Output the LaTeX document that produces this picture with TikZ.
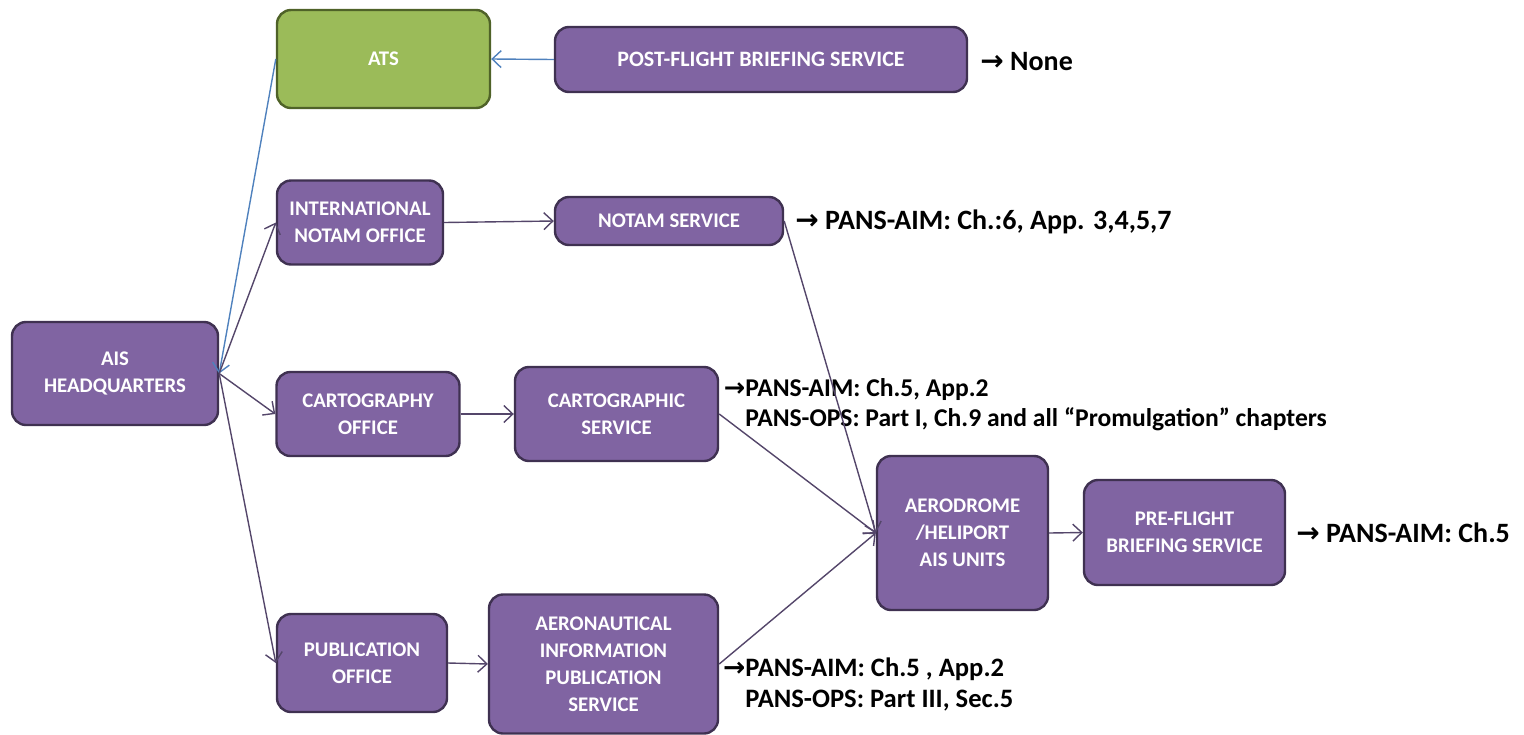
\documentclass[tikz,border=0pt]{standalone}
\usepackage{fontspec}
\setmainfont{Carlito}
\newfontfamily\arrfont{DejaVu Sans}
\usetikzlibrary{arrows.meta}
\definecolor{boxfill}{HTML}{8064A2}
\definecolor{boxline}{HTML}{3F3151}
\definecolor{atsfill}{HTML}{9BBB59}
\definecolor{atsline}{HTML}{4F6228}
\definecolor{conn}{HTML}{54466A}
\definecolor{blueconn}{HTML}{4F81BD}
\newcommand{\rarr}{{\arrfont\bfseries\symbol{"2192}}}
\begin{document}
\begin{tikzpicture}[x=0.5pt,y=-0.5pt,
 box/.style={draw=boxline, fill=boxfill, line width=1.2pt, rounded corners=7pt, text=white,
   font=\fontsize{10.4}{13.5}\selectfont\bfseries, align=center, inner sep=0pt},
 greenbox/.style={box, draw=atsline, fill=atsfill},
 link/.style={draw=conn, line width=0.7pt, -{Straight Barb[length=4.5pt,width=8.5pt]}},
 bluelink/.style={link, draw=blueconn},
 note/.style={anchor=west, text=black, inner sep=0pt, align=left},
 bignote/.style={note, font=\fontsize{14}{16}\selectfont\bfseries}]
\useasboundingbox (0,0) rectangle (1524,734);
% boxes
\node[box, minimum width=103pt, minimum height=51.5pt] (hq) at (115,373.5) {AIS\\HEADQUARTERS};
\node[greenbox, minimum width=106.5pt, minimum height=49pt] (ats) at (383.5,59) {ATS};
\node[box, minimum width=206pt, minimum height=32.5pt, font=\fontsize{11}{13.5}\selectfont\bfseries] (post) at (761,59.5) {POST-FLIGHT BRIEFING SERVICE};
\node[box, minimum width=83pt, minimum height=42pt] (intl) at (360,222.5) {INTERNATIONAL\\NOTAM OFFICE};
\node[box, minimum width=114pt, minimum height=24pt] (notam) at (669,221) {NOTAM SERVICE};
\node[box, minimum width=91.5pt, minimum height=42pt] (cof) at (368,414) {CARTOGRAPHY\\OFFICE};
\node[box, minimum width=101.5pt, minimum height=47pt] (csv) at (616.5,414) {CARTOGRAPHIC\\SERVICE};
\node[box, minimum width=85.5pt, minimum height=77pt] (aero) at (962.5,533) {AERODROME\\/HELIPORT\\AIS UNITS};
\node[box, minimum width=100.5pt, minimum height=52.5pt] (pre) at (1184.5,532.5) {PRE-FLIGHT\\BRIEFING SERVICE};
\node[box, minimum width=85pt, minimum height=49pt] (pub) at (362,663) {PUBLICATION\\OFFICE};
\node[box, minimum width=114.5pt, minimum height=69.5pt] (aip) at (603.5,664) {AERONAUTICAL\\INFORMATION\\PUBLICATION\\SERVICE};
% notes
\node[bignote] (n1) at (980,62) {\rarr\ None};
\node[bignote] (n2) at (795,222) {\rarr\ PANS-AIM: Ch.:6, App. 3,4,5,7};
\node[note, font=\fontsize{12.8}{15}\selectfont\bfseries] (n3) at (745,405) {\llap{\rarr}PANS-AIM: Ch.5, App.2\\PANS-OPS: Part I, Ch.9 and all “Promulgation” chapters};
\node[note, font=\fontsize{13.3}{15.5}\selectfont\bfseries] (n4) at (745,684) {\llap{\rarr}PANS-AIM: Ch.5 , App.2\\PANS-OPS: Part III, Sec.5};
\node[bignote] (n5) at (1296,533) {\rarr\ PANS-AIM: Ch.5};
% connectors
\draw[bluelink] (post.west) -- (ats.east);
\draw[bluelink] (ats.west) -- (hq.east);
\draw[link] (hq.east) -- (intl.west);
\draw[link] (hq.east) -- (cof.west);
\draw[link] (hq.east) -- (pub.west);
\draw[link] (intl.east) -- (notam.west);
\draw[link] (cof.east) -- (csv.west);
\draw[link] (pub.east) -- (aip.west);
\draw[link] (notam.east) -- (aero.west);
\draw[link] (csv.east) -- (aero.west);
\draw[link] (aip.east) -- (aero.west);
\draw[link] (aero.east) -- (pre.west);
\end{tikzpicture}
\end{document}
